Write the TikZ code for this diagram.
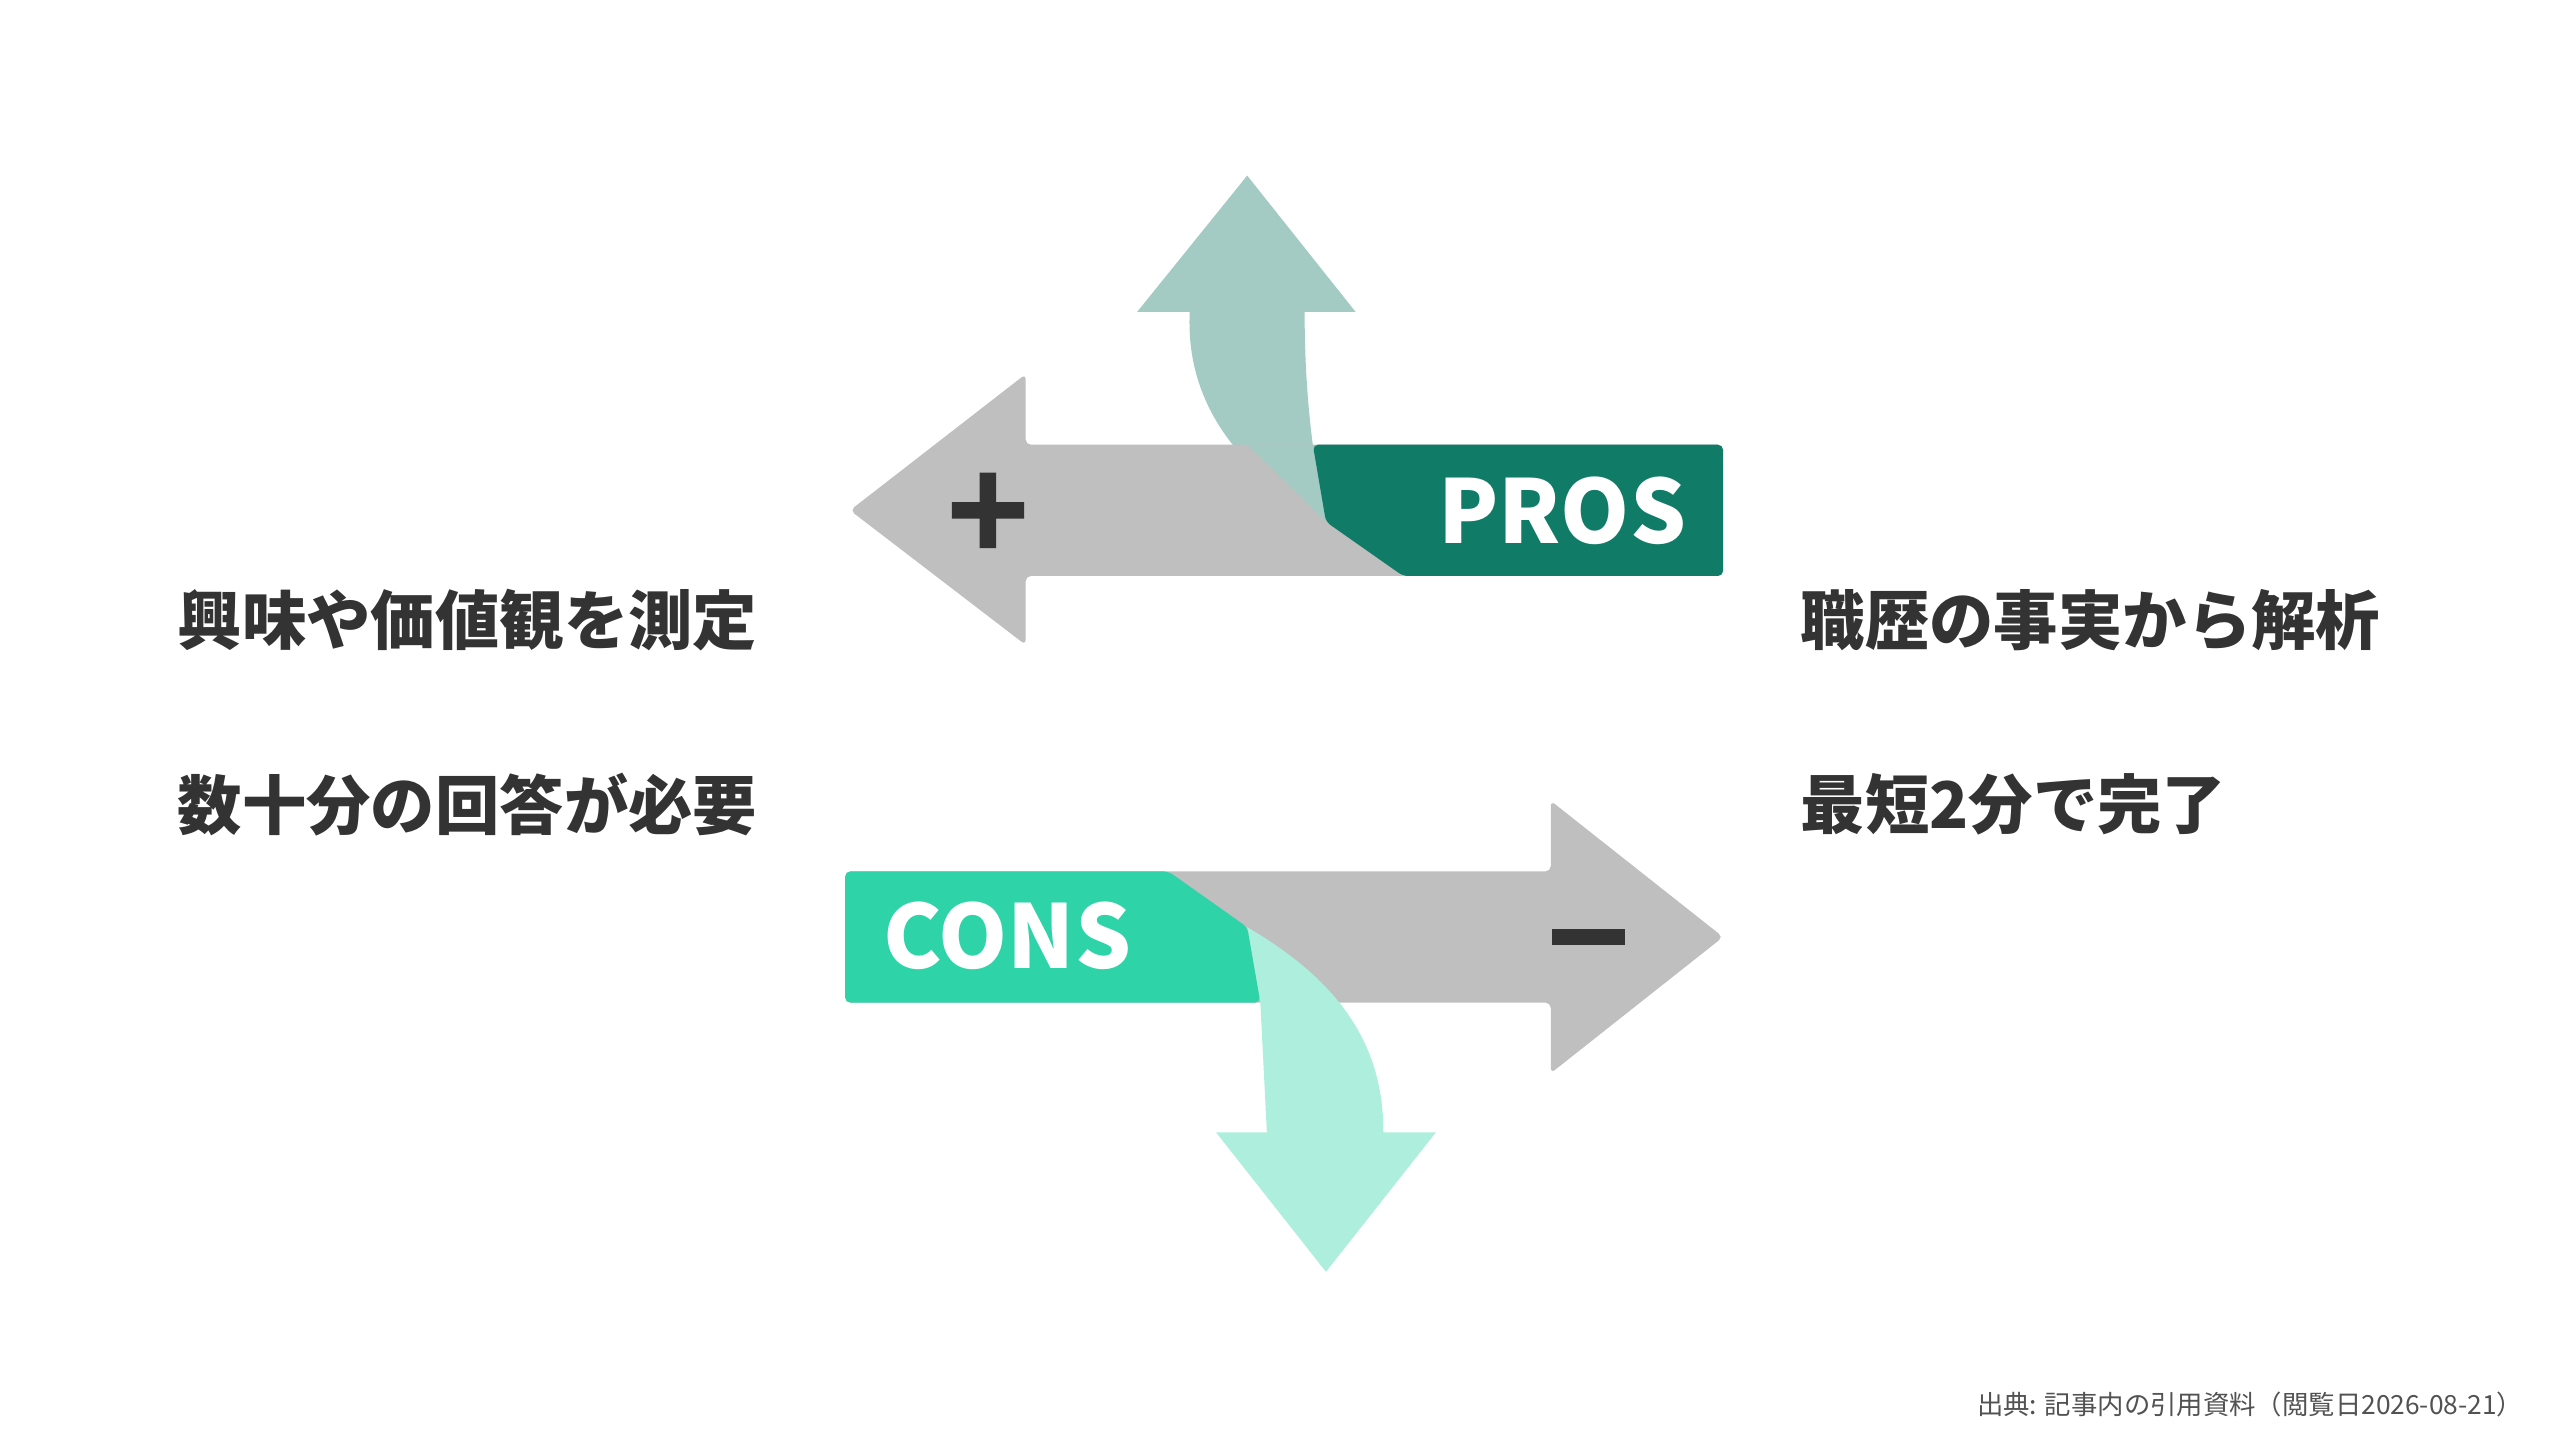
\documentclass[tikz,border=0pt]{standalone}
\usepackage{fontspec}
\setmainfont{Noto Sans CJK JP}
\usepackage{tikz}
\definecolor{grayarrow}{HTML}{BFBFBF}
\definecolor{prosgreen}{HTML}{107B66}
\definecolor{prosleaf}{HTML}{A3CBC3}
\definecolor{consgreen}{HTML}{2ED3A8}
\definecolor{consleaf}{HTML}{ADEEDC}
\definecolor{inkdark}{HTML}{333333}
\tikzset{
    every node/.style={inner sep=0pt, text=inkdark},
    point/.style={fill=grayarrow, rounded corners=1.5pt},
    claim/.style={anchor=west, font=\fontsize{18.3}{22}\selectfont\bfseries},
    tag/.style={text=white, font=\fontsize{25}{28}\selectfont\bfseries}
}
\begin{document}
\begin{tikzpicture}[x=0.01641cm, y=-0.01641cm]
  \useasboundingbox (0,0) rectangle (1560,877.5);
  % upper arrow
  \fill[prosleaf] (725,190) .. controls (722,250) and (760,290) .. (808,318)
    .. controls (800,280) and (795,240) .. (795,190) -- (826,190) -- (760,107) -- (693,190) -- cycle;
  \fill[point] (625,271) -- (1050,271) -- (1050,351) -- (625,351) -- (625,393) -- (518,311) -- (625,228) -- cycle;
  \fill[prosleaf] (760,271) .. controls (780,290) and (795,305) .. (808,318) -- (800,271) -- cycle;
  \fill[prosgreen, rounded corners=1.5pt] (800,271) -- (1050,271) -- (1050,351) -- (855,351) -- (808,318) -- cycle;
  \fill[inkdark] (597,288) rectangle (607,334) (580,306) rectangle (624,316);
  \node (pros) [tag] at (952,311) {PROS};
  % lower arrow
  \fill[point] (945,531) -- (945,488) -- (1050,571) -- (945,654) -- (945,611) -- (515,611) -- (515,531) -- cycle;
  \fill[consleaf] (760,565) .. controls (820,600) and (843,640) .. (843,690) -- (875,690) -- (808,775) -- (741,690) -- (772,690) -- (768,611) -- cycle;
  \fill[consgreen, rounded corners=1.5pt] (515,531) -- (712,531) -- (760,565) -- (768,611) -- (515,611) -- cycle;
  \fill[inkdark] (946,566) rectangle (990,576);
  \node (cons) [tag] at (614,570) {CONS};
  % texts
  \node (l1) [claim] at (108,378) {興味や価値観を測定};
  \node (l2) [claim] at (108,490) {数十分の回答が必要};
  \node (r1) [claim] at (1097,378) {職歴の事実から解析};
  \node (r2) [claim] at (1097,490) {最短2分で完了};
  \node (src) [anchor=east, font=\fontsize{7.5}{9}\selectfont, text=inkdark!85] at (1538,856) {出典: 記事内の引用資料（閲覧日2026-08-21）};
\end{tikzpicture}
\end{document}
